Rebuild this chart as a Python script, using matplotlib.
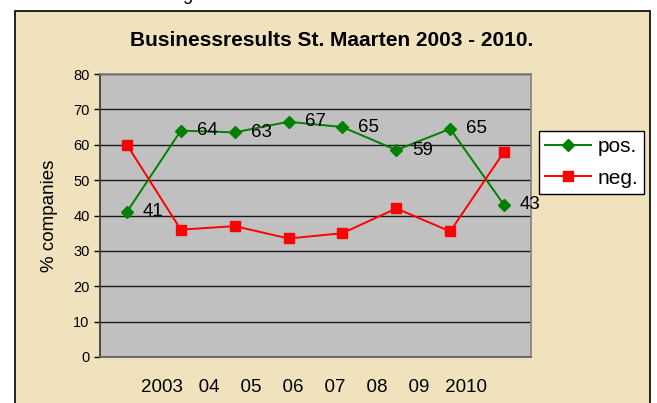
import matplotlib
matplotlib.use("Agg")
import matplotlib.pyplot as plt
from matplotlib.patches import Rectangle

# data
years = ["2003", "04", "05", "06", "07", "08", "09", "2010"]
pos_values = [41, 64, 63.5, 66.5, 65, 58.5, 64.5, 43]
pos_labels = ["41", "64", "63", "67", "65", "59", "65", "43"]
neg_values = [60, 36, 37, 33.5, 35, 42, 35.5, 58]
y_ticks = [0, 10, 20, 30, 40, 50, 60, 70, 80]

plt.rcParams['font.family'] = ['Liberation Sans', 'DejaVu Sans']

W, H = 657, 403
fig = plt.figure(figsize=(W / 100, H / 100), dpi=100)
fig.patch.set_facecolor('white')

# parchment chart area with black border (bottom edge runs off the image)
fig.patches.append(Rectangle((15 / W, -0.05), (650 - 15) / W, 1 - 11 / H + 0.05,
                             transform=fig.transFigure, facecolor='#F1E2BE',
                             edgecolor='black', linewidth=1.2, zorder=-5))

# descender of a line of text above the chart
fig.text(187 / W, 1.0, "g", fontsize=13, ha='center', va='baseline')

fig.text(332 / W, 1 - 40 / H, "Businessresults St. Maarten 2003 - 2010.",
         ha='center', va='center', fontsize=15, fontweight='bold')

ax = fig.add_axes([100 / W, 1 - 357 / H, 431 / W, 283 / H])
ax.set_facecolor('#C0C0C0')

x = list(range(len(years)))
ax.plot(x, pos_values, color='#008000', linewidth=1.4, marker='D',
        markersize=6, label='pos.', zorder=3, clip_on=False)
ax.plot(x, neg_values, color='#FF0000', linewidth=1.4, marker='s',
        markersize=7.5, label='neg.', zorder=3, clip_on=False)

for xi, yi, lab in zip(x, pos_values, pos_labels):
    ax.annotate(lab, (xi, yi), xytext=(11.5, 0), textcoords='offset points',
                ha='left', va='center', fontsize=13.5, zorder=4,
                annotation_clip=False)

ax.set_xlim(-0.5, len(years) - 0.5)
ax.set_ylim(0, 80)
ax.set_yticks(y_ticks)
ax.tick_params(axis='y', direction='out', length=4.5, width=1, colors='black',
               labelsize=10.5, pad=3)
ax.set_xticks([])
ax.yaxis.grid(True, color='#1a1a1a', linewidth=1)
ax.set_axisbelow(True)

for side in ['top', 'right']:
    ax.spines[side].set_color('#808080')
    ax.spines[side].set_linewidth(1.2)
ax.spines['left'].set_color('#404040')
ax.spines['left'].set_linewidth(1.3)
ax.spines['bottom'].set_color('#606060')
ax.spines['bottom'].set_linewidth(1.3)

ax.set_ylabel("% companies", fontsize=13.5, labelpad=11)

# year labels in a text line below the plot
year_line = years[0] + "   " + "    ".join(years[1:-1]) + "   " + years[-1]
fig.text(314 / W, 1 - 387 / H, year_line, ha='center', va='center', fontsize=13.5)

leg = fig.legend(loc='upper left', bbox_to_anchor=(539 / W, 1 - 131 / H),
                 fontsize=15, frameon=True, fancybox=False, framealpha=1,
                 edgecolor='black', handlelength=2.2, handletextpad=0.3,
                 labelspacing=0.6, borderpad=0.3, borderaxespad=0)
leg.get_frame().set_linewidth(1)

fig.savefig("out.png", dpi=100, facecolor=fig.get_facecolor())
